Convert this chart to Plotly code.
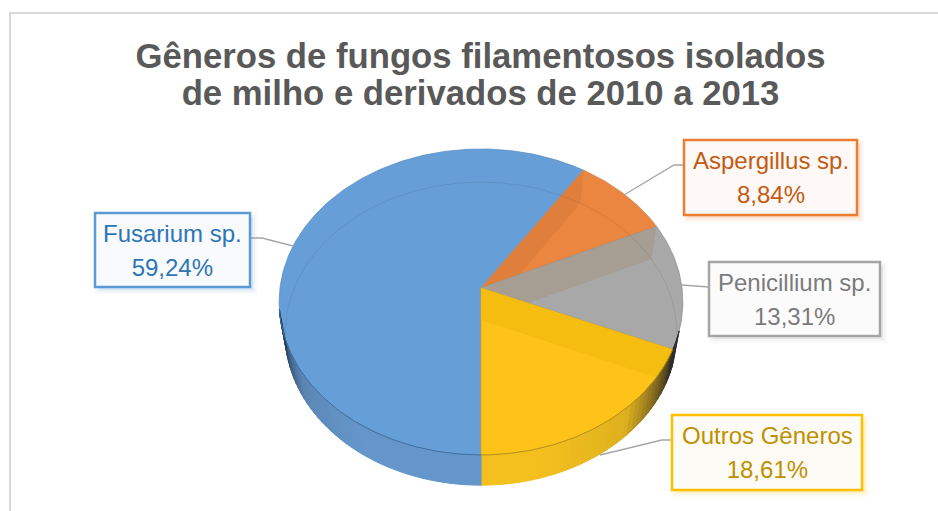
import math
import plotly.graph_objects as go

TITLE_LINES = ["Gêneros de fungos filamentosos isolados", "de milho e derivados de 2010 a 2013"]
categories = ["Fusarium sp.", "Aspergillus sp.", "Penicillium sp.", "Outros Gêneros"]
values = [59.24, 8.84, 13.31, 18.61]
value_labels = ["59,24%", "8,84%", "13,31%", "18,61%"]

top_colors = ["#669fd7", "#ea8640", "#a8a8a8", "#fdc318"]
band_colors = [None, "#e07f3c", "#a69d93", "#f5bd10"]
edge_colors = ["#5b8fc4", "#c98a55", "#8f8f8f", "#d9a520"]
border_colors = ["#5b9bd5", "#ed7d31", "#a5a5a5", "#ffc000"]
fill_colors = ["#f8fafd", "#fef9f6", "#fbfbfb", "#fdfbf5"]
text_colors = ["#2e75b6", "#c55a11", "#7b7b7b", "#bf9000"]
boxes = [(95, 213, 250, 287), (684, 140, 857, 215), (709, 262, 880, 336), (672, 415, 862, 490)]
leaders = [
    ([250, 262, 293], [238, 238, 246]),
    ([684, 674, 624], [165, 165, 195]),
    ([709, 698, 682], [287, 286, 285]),
    ([672, 662, 600], [440, 440, 455]),
]


def top(t):
    r = math.radians(t)
    w = 1 + 0.0913 * math.cos(r)
    return 481 + 201 * math.sin(r) / w, 288 - 151.7 * math.cos(r) / w


def low(t):
    r = math.radians(t)
    w = 1 + 0.09 * math.cos(r)
    return 481 + 195 * math.sin(r) / w, 320 - 150.3 * math.cos(r) / w


def arc(f, a, b, step=1.0):
    n = max(2, int(abs(b - a) / step) + 1)
    return [f(a + (b - a) * i / (n - 1)) for i in range(n)]


def mix(c1, c2, u):
    u = max(0, min(1, u))
    return "rgb(%d,%d,%d)" % tuple(round(c1[i] + (c2[i] - c1[i]) * u) for i in range(3))


def poly(pts, color, name, lw=0.0, lc=None):
    return go.Scatter(
        x=[p[0] for p in pts], y=[p[1] for p in pts], mode="lines", fill="toself",
        fillcolor=color, line=dict(color=lc or color, width=lw), name=name,
        hoverinfo="skip", showlegend=False,
    )


fig = go.Figure()

# slice boundaries, clockwise from the front of the pie
starts = []
ang = 180.0
for v in values:
    starts.append(ang)
    ang += v * 3.6
ends = [s + v * 3.6 for s, v in zip(starts, values)]

# top faces with see-through inner walls
for i in range(4):
    a, b = starts[i], ends[i]
    pts = [(481, 288)] + arc(top, a, b) + [(481, 288)]
    fig.add_trace(poly(pts, top_colors[i], categories[i], 0.8, edge_colors[i]))
    if band_colors[i]:
        s_top, s_low = top(a), low(a)
        fig.add_trace(poly([(481, 288), s_top, s_low, (481, 320)], band_colors[i], categories[i]))

# far rim of the base, seen through the top
rim = arc(low, -98, 98)
fig.add_trace(go.Scatter(x=[p[0] for p in rim], y=[p[1] for p in rim], mode="lines",
                         line=dict(color="rgba(40,40,60,0.10)", width=1), hoverinfo="skip", showlegend=False))

# outer walls
DARK_B, MID_B, LIGHT_B = (30, 50, 76), (92, 134, 180), (100, 150, 203)
DARK_Y, MID_Y, LIGHT_Y = (60, 52, 30), (222, 176, 30), (244, 192, 30)
t = 106.0
while t < 262:
    nxt = t + 2
    if t < 113.1:
        col = "rgb(45,45,50)"
    elif t < 180:
        u = (t - 113) / 67
        col = mix(DARK_Y, MID_Y, u / 0.35) if u < 0.35 else mix(MID_Y, LIGHT_Y, (u - 0.35) / 0.4)
    else:
        u = (262 - t) / 82
        col = mix(DARK_B, MID_B, u / 0.3) if u < 0.3 else mix(MID_B, LIGHT_B, (u - 0.3) / 0.3)
    e = min(nxt, 180.0) if t < 180 else nxt
    pts = [top(t), top(e), low(e), low(t), top(t)]
    fig.add_trace(poly(pts, col, "wall", 1.0, col))
    t = e

# near rim of the top face
for a, b, c in [(113, 180, "#b8901a"), (180, 262, "#41709f")]:
    r = arc(top, a, b)
    fig.add_trace(go.Scatter(x=[p[0] for p in r], y=[p[1] for p in r], mode="lines",
                             line=dict(color=c, width=1), hoverinfo="skip", showlegend=False))

# leaders
for (lx, ly) in leaders:
    fig.add_trace(go.Scatter(x=lx, y=ly, mode="lines", line=dict(color="#a6a6a6", width=1.3),
                             hoverinfo="skip", showlegend=False))

shapes = [dict(type="rect", xref="x", yref="y", x0=10, y0=13, x1=960, y1=540,
               line=dict(color="#d9d9d9", width=2), fillcolor="rgba(0,0,0,0)", layer="below")]
annotations = []
for i, (x0, y0, x1, y1) in enumerate(boxes):
    for k, op in [(7, 0.05), (5, 0.08), (3, 0.12)]:
        shapes.append(dict(type="rect", xref="x", yref="y", x0=x0 + 5 - k + 2, y0=y0 + 5 - k + 2,
                           x1=x1 + k, y1=y1 + k, line=dict(width=0), fillcolor=border_colors[i], opacity=op))
    shapes.append(dict(type="rect", xref="x", yref="y", x0=x0, y0=y0, x1=x1, y1=y1,
                       line=dict(color=border_colors[i], width=2.5), fillcolor=fill_colors[i]))
    annotations.append(dict(
        x=(x0 + x1) / 2, y=(y0 + y1) / 2, xref="x", yref="y", showarrow=False,
        text=f'<span style="font-size:24px">{categories[i]}</span><br><span style="font-size:24px">{value_labels[i]}</span>',
        font=dict(family="Liberation Sans", size=26, color=text_colors[i]),
        xanchor="center", yanchor="middle", align="center",
    ))

title_text = "<br>".join(f'<span style="font-size:34.7px">{s}</span>' for s in TITLE_LINES)
fig.update_layout(
    width=938, height=511, margin=dict(l=0, r=0, t=0, b=0),
    paper_bgcolor="white", plot_bgcolor="white",
    xaxis=dict(range=[0, 938], visible=False, fixedrange=True),
    yaxis=dict(range=[511, 0], visible=False, fixedrange=True),
    title=dict(text=title_text, x=480.5 / 938, xanchor="center", y=1 - 67.5 / 511, yanchor="top",
               font=dict(family="Liberation Sans", size=29.2, color="#595959", weight="bold")),
    shapes=shapes, annotations=annotations, showlegend=False,
)
fig.write_html("out.html", config={"displayModeBar": False},
               post_script="document.body.style.margin='0';")
